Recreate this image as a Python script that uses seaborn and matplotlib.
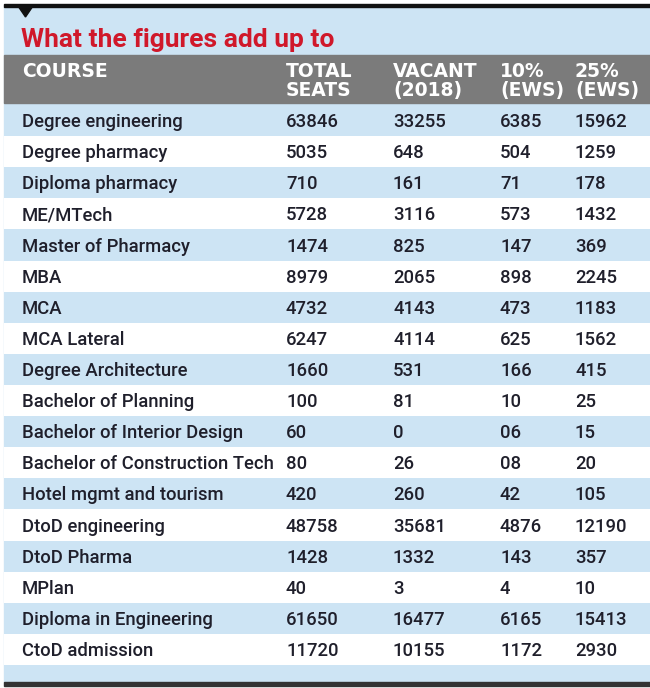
import numpy as np
import pandas as pd
import matplotlib.pyplot as plt
import matplotlib.transforms as mtransforms
from matplotlib.colors import ListedColormap
from matplotlib.patches import Polygon
import seaborn as sns

# ---------- Data ----------
title = "What the figures add up to"
headers = ["COURSE", "TOTAL\nSEATS", "VACANT\n(2018)", "10%\n(EWS)", "25%\n(EWS)"]
courses = ["Degree engineering", "Degree pharmacy", "Diploma pharmacy", "ME/MTech",
           "Master of Pharmacy", "MBA", "MCA", "MCA Lateral", "Degree Architecture",
           "Bachelor of Planning", "Bachelor of Interior Design",
           "Bachelor of Construction Tech", "Hotel mgmt and tourism", "DtoD engineering",
           "DtoD Pharma", "MPlan", "Diploma in Engineering", "CtoD admission"]
total_seats = ["63846", "5035", "710", "5728", "1474", "8979", "4732", "6247", "1660",
               "100", "60", "80", "420", "48758", "1428", "40", "61650", "11720"]
vacant_2018 = ["33255", "648", "161", "3116", "825", "2065", "4143", "4114", "531",
               "81", "0", "26", "260", "35681", "1332", "3", "16477", "10155"]
ews_10 = ["6385", "504", "71", "573", "147", "898", "473", "625", "166",
          "10", "06", "08", "42", "4876", "143", "4", "6165", "1172"]
ews_25 = ["15962", "1259", "178", "1432", "369", "2245", "1183", "1562", "415",
          "25", "15", "20", "105", "12190", "357", "10", "15413", "2930"]

df = pd.DataFrame({"course": courses, "total": total_seats, "vacant": vacant_2018,
                   "ews10": ews_10, "ews25": ews_25})

# ---------- Style ----------
sns.set_theme(style="white")
BODY_FONT = ["Roboto", "DejaVu Sans"]
BLUE = "#cde4f4"
GRAY = "#7b7b7b"
RED = "#d0182a"
INK = "#1f1f2b"
col_x = [22, 286, 393, 500, 575]

W, H = 650, 688
fig = plt.figure(figsize=(W / 100, H / 100), dpi=100)
ax = fig.add_axes([0, 0, 1, 1])
ax.set_xlim(0, W)
ax.set_ylim(H, 0)
ax.axis("off")

# panel background, top rule, marker
ax.axhspan(7, 682, xmin=4 / W, xmax=1, color=BLUE, zorder=0)
ax.axhspan(4, 7, xmin=4 / W, xmax=1, color="#111111", zorder=2)
ax.add_patch(Polygon([[18, 6], [33, 6], [25.5, 17]], closed=True, color="#111111", zorder=3))
ax.axhspan(682, 686, xmin=4 / W, xmax=1, color="#333333", zorder=2)

# title
ax.text(21, 47, title, color=RED, fontsize=19, fontweight="bold", family=BODY_FONT,
        ha="left", va="baseline")

# header bar
ax.axhspan(55, 103, xmin=4 / W, xmax=1, color=GRAY, zorder=1)
for x, h in zip(col_x, headers):
    ax.text(x, 62, h, color="white", fontsize=13.5, fontweight="bold", family="DejaVu Sans",
            ha="left", va="top", linespacing=1.0, zorder=3)

# body stripes via seaborn heatmap
top, bottom = 105, 665
body = fig.add_axes([4 / W, 1 - bottom / H, (W - 4) / W, (bottom - top) / H])
stripes = pd.DataFrame({"band": np.arange(len(df)) % 2})
sns.heatmap(stripes, ax=body, cmap=ListedColormap([BLUE, "white"]), cbar=False,
            xticklabels=False, yticklabels=False, linewidths=0)
body.axis("off")

trans = mtransforms.blended_transform_factory(ax.transData, body.transData)
for i, row in df.iterrows():
    for x, val in zip(col_x, row.values):
        fig.text(x, i + 0.55, val, transform=trans, color=INK, fontsize=13.3,
                 fontweight="medium", family=BODY_FONT, ha="left", va="center", zorder=5)

fig.savefig("out.png", dpi=100)
